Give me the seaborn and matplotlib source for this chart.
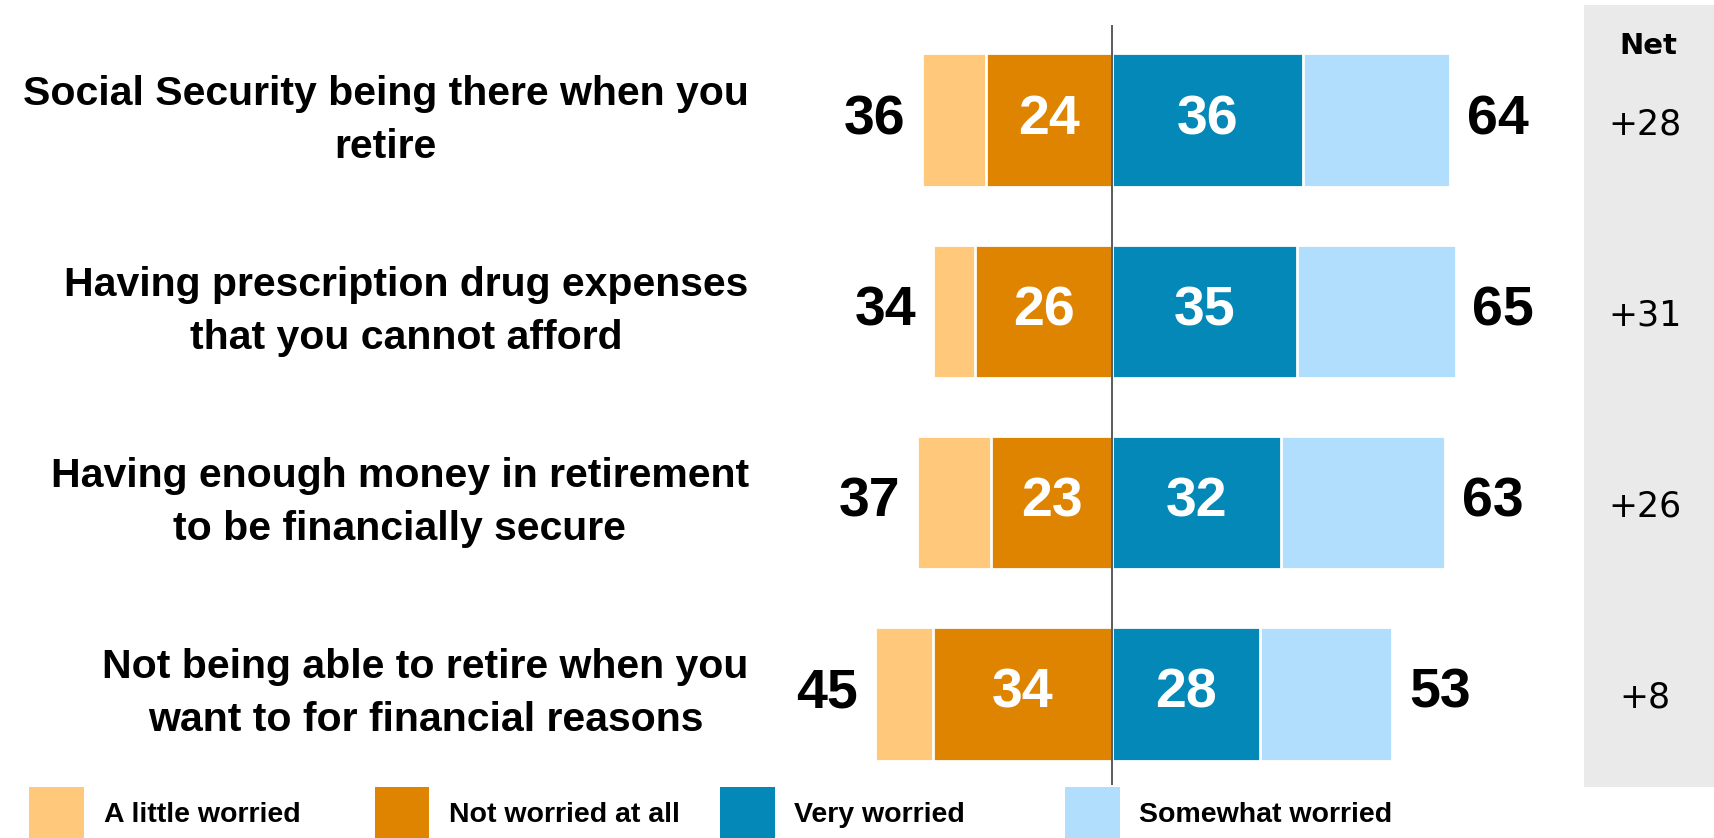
import matplotlib
matplotlib.use("Agg")
import matplotlib.pyplot as plt
import matplotlib.transforms as mtransforms
from matplotlib.patches import Rectangle
import seaborn as sns

# data
items = ["Social Security being there when you\nretire",
         "Having prescription drug expenses\nthat you cannot afford",
         "Having enough money in retirement\nto be financially secure",
         "Not being able to retire when you\nwant to for financial reasons"]
little = [12, 8, 14, 11]        # A little worried
not_at_all = [24, 26, 23, 34]   # Not worried at all
very = [36, 35, 32, 28]         # Very worried
somewhat = [28, 30, 31, 25]     # Somewhat worried

series_names = ["A little worried", "Not worried at all", "Very worried", "Somewhat worried"]
colors = ["#FFC87A", "#DE8400", "#0388B8", "#B0DEFC"]

left_total = [a + b for a, b in zip(little, not_at_all)]
right_total = [a + b for a, b in zip(very, somewhat)]
net = [r - l for r, l in zip(right_total, left_total)]

sns.set_style("white")
plt.rcParams["font.family"] = ["Liberation Sans", "DejaVu Sans"]
plt.rcParams["text.color"] = "black"

fig = plt.figure(figsize=(17.14, 8.38), dpi=100)
ax = fig.add_axes([0.4488, 0.0632, 0.9109 - 0.4488, 0.9702 - 0.0632])

bar_kw = dict(orient="h", width=0.70, edgecolor="white", linewidth=2,
              saturation=1, errorbar=None, ax=ax)
# outer segments first, inner ones drawn over them
sns.barplot(x=[-v for v in left_total], y=items, color=colors[0], **bar_kw)
sns.barplot(x=[-v for v in not_at_all], y=items, color=colors[1], **bar_kw)
sns.barplot(x=right_total, y=items, color=colors[3], **bar_kw)
sns.barplot(x=very, y=items, color=colors[2], **bar_kw)

num_fs = 40
c_left, c_inner_l, c_right, c_inner_r = ax.containers
ax.bar_label(c_left, labels=[str(v) for v in left_total], padding=12,
             fontsize=num_fs, fontweight="bold", color="black")
ax.bar_label(c_right, labels=[str(v) for v in right_total], padding=12,
             fontsize=num_fs, fontweight="bold", color="black")
ax.bar_label(c_inner_l, labels=[str(v) for v in not_at_all], label_type="center",
             fontsize=num_fs, fontweight="bold", color="white")
ax.bar_label(c_inner_r, labels=[str(v) for v in very], label_type="center",
             fontsize=num_fs, fontweight="bold", color="white")

ax.axvline(0, color="#404040", lw=1.2, zorder=5)
ax.set_xlim(-65, 85)
ax.set_ylim(3.478, -0.499)
ax.set_xlabel("")
ax.set_ylabel("")
ax.tick_params(left=False, bottom=False, labelleft=False, labelbottom=False)
sns.despine(ax=ax, left=True, bottom=True)

# category labels, right aligned to the left of the bars
trans = mtransforms.blended_transform_factory(fig.transFigure, ax.transData)
for i, label in enumerate(items):
    fig.text(0.4368, i, label, transform=trans, ha="right", va="center",
             multialignment="center", fontsize=29.5, fontweight="bold",
             linespacing=1.5)

# net column
fig.add_artist(Rectangle((0.9242, 0.0609), 0.0758, 0.9326, transform=fig.transFigure,
                         facecolor="#EAEAEA", edgecolor="none", zorder=0))
fig.text(0.9617, 0.945, "Net", ha="center", va="center", fontsize=21,
         fontweight="bold", family="DejaVu Sans")
for i, v in enumerate(net):
    fig.text(0.9598, i + 0.02, f"+{v}", transform=trans, ha="center", va="center",
             fontsize=25, family="DejaVu Sans")

# legend
for i, (name, col) in enumerate(zip(series_names, colors)):
    x0 = 0.0172 + i * 0.2014
    fig.add_artist(Rectangle((x0, 0.0), 0.0319, 0.0609, transform=fig.transFigure,
                             facecolor=col, edgecolor="none"))
    fig.text(x0 + 0.0434, 0.0274, name, ha="left", va="center", fontsize=20.5,
             fontweight="bold")

fig.savefig("out.png", dpi=100)
